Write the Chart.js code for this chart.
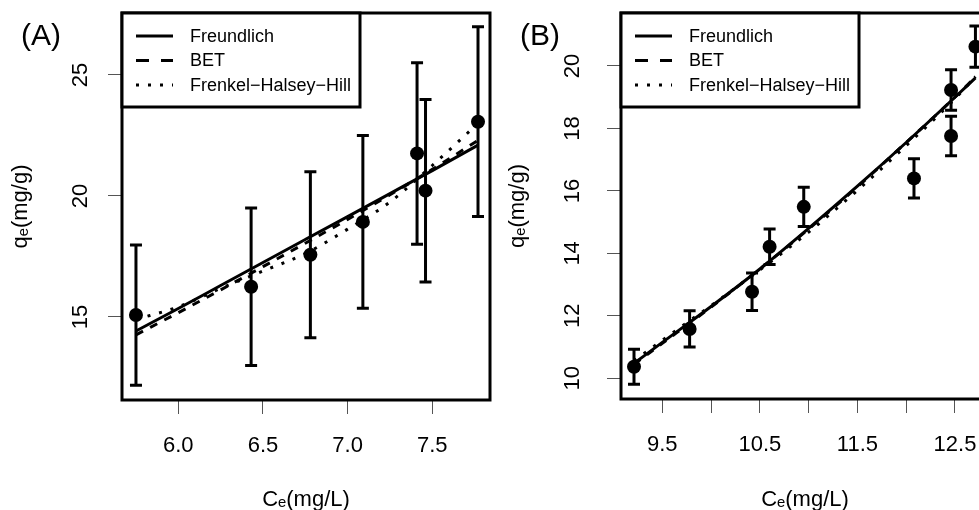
<!DOCTYPE html>
<html>
<head>
<meta charset="utf-8">
<script src="https://cdn.jsdelivr.net/npm/chart.js@4.4.1/dist/chart.umd.min.js"></script>
<style>
  html, body { margin: 0; padding: 0; background: #fff; overflow: hidden; width: 979px; height: 510px; }
  #panelA { position: absolute; left: 0; top: 0; }
  #panelB { position: absolute; left: 500px; top: 0; }
</style>
</head>
<body>
<canvas id="panelA" width="500" height="510"></canvas>
<canvas id="panelB" width="510" height="510"></canvas>
<script>
// ---- panel A : measured points ----
const ceA = [5.75, 6.43, 6.78, 7.09, 7.41, 7.46, 7.77];
const qeA = [15.08, 16.25, 17.57, 18.93, 21.76, 20.22, 23.07];
const errA = [2.9, 3.25, 3.43, 3.57, 3.75, 3.77, 3.92];

// ---- panel A : fitted curves ----
const fitXA = [5.75, 6.0, 6.25, 6.5, 6.75, 7.0, 7.25, 7.5, 7.77];
const freundA = [14.42, 15.35, 16.3, 17.25, 18.2, 19.15, 20.1, 21.05, 22.1];
const betA = [14.26, 15.18, 16.12, 17.08, 18.05, 19.03, 20.05, 21.1, 22.3];
const fhhA = [14.9, 15.42, 16.18, 16.9, 17.62, 18.63, 19.75, 21.26, 23.0];

// ---- panel B : measured points ----
const ceB = [9.21, 9.78, 10.42, 10.6, 10.95, 12.08, 12.46, 12.46, 12.71];
const qeB = [10.37, 11.58, 12.77, 14.21, 15.49, 16.4, 17.76, 19.23, 20.62];
const errB = [0.56, 0.58, 0.6, 0.57, 0.63, 0.63, 0.63, 0.65, 0.66];

// ---- panel B : fitted curves ----
const fitXB = [9.21, 9.5, 10.0, 10.5, 11.0, 11.5, 12.0, 12.5, 12.71];
const freundB = [10.48, 11.15, 12.3, 13.5, 14.8, 16.15, 17.55, 19.0, 19.62];
const betB = [10.45, 11.12, 12.28, 13.5, 14.78, 16.13, 17.55, 19.0, 19.65];
const fhhB = [10.56, 11.22, 12.33, 13.47, 14.68, 16.02, 17.45, 18.95, 19.66];

// tick labels actually printed (R drops the crowded ones)
const xLabelsA = [6.0, 6.5, 7.0, 7.5];
const xLabelsB = [9.5, 10.5, 11.5, 12.5];

const FONT = '"Liberation Sans", Arial, "DejaVu Sans", sans-serif';
Chart.defaults.font.family = FONT;
Chart.defaults.color = "#000";

// error bars, drawn through the chart scales
const errorBars = {
  id: "errorBars",
  beforeDatasetsDraw(chart) {
    const { ctx, scales: { x, y } } = chart;
    const ds = chart.data.datasets.find((d) => d.errors);
    if (!ds) return;
    ctx.save();
    ctx.strokeStyle = "#000";
    ctx.lineWidth = 3;
    ds.data.forEach((p, i) => {
      const e = ds.errors[i];
      const px = x.getPixelForValue(p.x);
      const top = y.getPixelForValue(p.y + e);
      const bot = y.getPixelForValue(p.y - e);
      ctx.beginPath();
      ctx.moveTo(px, top); ctx.lineTo(px, bot);
      ctx.moveTo(px - 6, top); ctx.lineTo(px + 6, top);
      ctx.moveTo(px - 6, bot); ctx.lineTo(px + 6, bot);
      ctx.stroke();
    });
    ctx.restore();
  },
};

// R style box round the plot + framed legend in the top left corner
const boxAndLegend = {
  id: "boxAndLegend",
  afterDatasetsDraw(chart) {
    const { ctx, chartArea: a } = chart;
    ctx.save();
    ctx.strokeStyle = "#000";
    ctx.lineWidth = 3;
    ctx.strokeRect(a.left, a.top, a.right - a.left, a.bottom - a.top);

    const w = 238, h = 94;
    ctx.fillStyle = "#fff";
    ctx.fillRect(a.left, a.top, w, h);
    ctx.strokeRect(a.left, a.top, w, h);

    ctx.font = "18px " + FONT;
    ctx.textBaseline = "middle";
    ctx.fillStyle = "#000";
    const items = chart.data.datasets.filter((d) => d.type === "line");
    items.forEach((d, i) => {
      const yy = a.top + 23 + i * 24.5;
      ctx.setLineDash(d.legendDash || []);
      ctx.beginPath();
      ctx.moveTo(a.left + 14, yy);
      ctx.lineTo(a.left + 51, yy);
      ctx.stroke();
      ctx.setLineDash([]);
      ctx.fillText(d.label, a.left + 68, yy + 1);
    });
    ctx.restore();
  },
};

const panelTag = {
  id: "panelTag",
  afterDraw(chart, args, opts) {
    const { ctx } = chart;
    ctx.save();
    ctx.font = "30px " + FONT;
    ctx.fillStyle = "#000";
    ctx.fillText(opts.text, opts.x, opts.y);
    ctx.restore();
  },
};

function pts(xs, ys) {
  return xs.map((x, i) => ({ x, y: ys[i] }));
}

// keep the plot box exactly where R put it (no label overhang padding)
function noOverhang(s) {
  s.paddingTop = 0;
  s.paddingBottom = 0;
  s.paddingLeft = 0;
  s.paddingRight = 0;
}

function makePanel(id, p) {
  const curve = (label, ys, dash, legendDash) => ({
    type: "line",
    label,
    data: pts(p.fitX, ys),
    borderColor: "#000",
    borderWidth: 3,
    borderDash: dash,
    legendDash,
    pointRadius: 0,
    cubicInterpolationMode: "monotone",
    order: 1,
  });

  return new Chart(document.getElementById(id), {
    type: "scatter",
    data: {
      datasets: [
        {
          type: "scatter",
          label: "data",
          data: pts(p.ce, p.qe),
          errors: p.err,
          pointRadius: 7,
          pointHoverRadius: 7,
          backgroundColor: "#000",
          borderWidth: 0,
          order: 0,
        },
        curve("Freundlich", p.freund, [], []),
        curve("BET", p.bet, [8, 8], [13, 12]),
        curve("Frenkel\u2212Halsey\u2212Hill", p.fhh, [3, 9], [3, 9]),
      ],
    },
    options: {
      responsive: false,
      animation: false,
      events: [],
      layout: { padding: { left: 0, top: 13, right: p.padRight, bottom: 0 } },
      plugins: {
        legend: { display: false },
        tooltip: { enabled: false },
        panelTag: { text: p.tag, x: p.tagX, y: 45 },
      },
      scales: {
        x: {
          type: "linear",
          min: p.xMin,
          max: p.xMax,
          border: { display: false },
          grid: { drawOnChartArea: false, tickLength: 14, color: "#555", lineWidth: 1 },
          ticks: {
            stepSize: 0.5,
            includeBounds: false,
            autoSkip: false,
            maxRotation: 0,
            padding: 19,
            font: { size: 22 },
            callback: (v) => (p.xLabels.includes(v) ? v.toFixed(1) : ""),
          },
          title: { display: true, text: "C\u2091(mg/L)", font: { size: 22, lineHeight: 1 }, padding: { top: 0, bottom: -1 } },
          afterFit: (s) => { s.height = p.xAxisH; noOverhang(s); },
        },
        y: {
          type: "linear",
          min: p.yMin,
          max: p.yMax,
          border: { display: false },
          grid: { drawOnChartArea: false, tickLength: 14, color: "#555", lineWidth: 1 },
          ticks: {
            stepSize: p.yStep,
            includeBounds: false,
            minRotation: 90,
            maxRotation: 90,
            crossAlign: "center",
            padding: p.yTickPad,
            font: { size: 22 },
          },
          title: { display: true, text: "q\u2091(mg/g)", font: { size: 22, lineHeight: 1 }, padding: p.yTitlePad },
          afterFit: (s) => { s.width = p.yAxisW; noOverhang(s); },
        },
      },
    },
    plugins: [errorBars, boxAndLegend, panelTag],
  });
}

makePanel("panelA", {
  ce: ceA, qe: qeA, err: errA,
  fitX: fitXA, freund: freundA, bet: betA, fhh: fhhA,
  xLabels: xLabelsA,
  xMin: 5.6675, xMax: 7.8408, yMin: 11.57, yMax: 27.562, yStep: 5,
  yAxisW: 122, xAxisH: 110, padRight: 10,
  yTickPad: 15, yTitlePad: 10,
  tag: "(A)", tagX: 21,
});

makePanel("panelB", {
  ce: ceB, qe: qeB, err: errB,
  fitX: fitXB, freund: freundB, bet: betB, fhh: fhhB,
  xLabels: xLabelsB,
  xMin: 9.0767, xMax: 12.849, yMin: 9.337, yMax: 21.697, yStep: 2,
  yAxisW: 121, xAxisH: 111, padRight: 21,
  yTickPad: 22, yTitlePad: 7,
  tag: "(B)", tagX: 20,
});
</script>
</body>
</html>
